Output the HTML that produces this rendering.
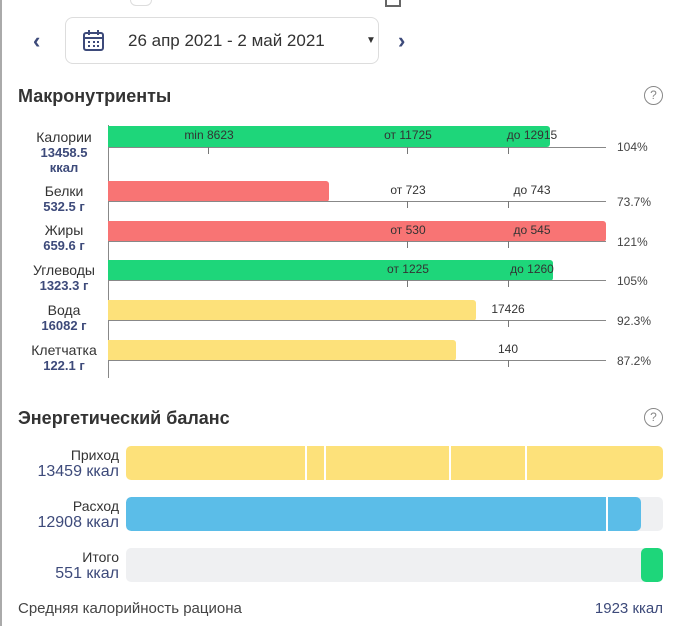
<!DOCTYPE html><html><head><meta charset="utf-8"><style>
body{margin:0;width:680px;height:626px;background:#fff;position:relative;overflow:hidden;font-family:"Liberation Sans","DejaVu Sans",sans-serif;color:#333}
.a{position:absolute}
.lbl{position:absolute;width:110px;left:9px;text-align:center;font-size:14px;line-height:15px;color:#333}
.lbl b{color:#3d4a7a;font-size:13px}
.bar{position:absolute;left:108px;height:21px;border-radius:0 3px 3px 0}
.base{position:absolute;left:108px;width:498px;height:1px;background:#888}
.tk{position:absolute;width:1px;height:7px;background:#777}
.tl{position:absolute;font-size:12px;color:#333;transform:translateX(-50%)}
.pc{position:absolute;left:617px;font-size:12px;color:#444}
.el{position:absolute;right:561px;text-align:right;font-size:14px;line-height:16px}
.el b{font-weight:normal;color:#3d4a7a;font-size:16px}
.eb{position:absolute;left:126px;width:537px;height:34px;border-radius:5px;background:#eff0f2;overflow:hidden}
.dv{position:absolute;top:0;width:2px;height:34px;background:#fff}
</style></head><body>
<div class="a" style="left:0;top:0;width:2px;height:626px;background:#aaa"></div>
<div class="a" style="left:130px;top:-12px;width:20px;height:16px;border:1px solid #ddd;border-radius:6px"></div>
<div class="a" style="left:385px;top:-6px;width:12px;height:9px;border:2px solid #666"></div>
<div class="a" style="left:33px;top:28px;font-size:22px;color:#3d4a7a;font-weight:bold">‹</div>
<div class="a" style="left:398px;top:28px;font-size:22px;color:#3d4a7a;font-weight:bold">›</div>
<div class="a" style="left:65px;top:17px;width:312px;height:45px;border:1px solid #ddd;border-radius:8px"></div>
<svg class="a" style="left:82px;top:29px" width="24" height="24"><rect x="2" y="4" width="19" height="17" rx="2" fill="none" stroke="#3d4a7a" stroke-width="2"/><line x1="2" y1="9" x2="21" y2="9" stroke="#3d4a7a" stroke-width="2"/><line x1="7" y1="1" x2="7" y2="6" stroke="#3d4a7a" stroke-width="2"/><line x1="16" y1="1" x2="16" y2="6" stroke="#3d4a7a" stroke-width="2"/><g fill="#3d4a7a"><rect x="6" y="12" width="2" height="2"/><rect x="11" y="12" width="2" height="2"/><rect x="15" y="12" width="2" height="2"/><rect x="6" y="16" width="2" height="2"/><rect x="11" y="16" width="2" height="2"/><rect x="15" y="16" width="2" height="2"/></g></svg>
<div class="a" style="left:128px;top:31px;font-size:17px;color:#333">26 апр 2021 - 2 май 2021</div>
<div class="a" style="left:366px;top:35px;font-size:10px;color:#333">▼</div>
<div class="a" style="left:18px;top:86px;font-size:18px;font-weight:bold;color:#333">Макронутриенты</div>
<div class="a" style="left:644px;top:86px;width:17px;height:17px;border:1px solid #888;border-radius:50%;font-size:12px;text-align:center;line-height:17px;color:#888">?</div>
<div class="a" style="left:108px;top:125px;width:1px;height:253px;background:#888"></div>

<div class="lbl" style="top:130px">Калории<br><b>13458.5<br>ккал</b></div>
<div class="bar" style="top:126px;width:442px;background:#1ed67a"></div>
<div class="base" style="top:147px"></div>
<div class="tk" style="left:208px;top:147px"></div><div class="tk" style="left:407px;top:147px"></div><div class="tk" style="left:508px;top:147px"></div>
<div class="tl" style="left:209px;top:128px">min 8623</div><div class="tl" style="left:408px;top:128px">от 11725</div><div class="tl" style="left:532px;top:128px">до 12915</div>
<div class="pc" style="top:140px">104%</div>

<div class="lbl" style="top:184px">Белки<br><b>532.5 г</b></div>
<div class="bar" style="top:181px;width:221px;background:#f87474"></div>
<div class="base" style="top:201px"></div>
<div class="tk" style="left:407px;top:201px"></div><div class="tk" style="left:508px;top:201px"></div>
<div class="tl" style="left:408px;top:183px">от 723</div><div class="tl" style="left:532px;top:183px">до 743</div>
<div class="pc" style="top:195px">73.7%</div>

<div class="lbl" style="top:223px">Жиры<br><b>659.6 г</b></div>
<div class="bar" style="top:221px;width:498px;background:#f87474"></div>
<div class="base" style="top:241px"></div>
<div class="tk" style="left:407px;top:241px"></div><div class="tk" style="left:508px;top:241px"></div>
<div class="tl" style="left:408px;top:223px">от 530</div><div class="tl" style="left:532px;top:223px">до 545</div>
<div class="pc" style="top:235px">121%</div>

<div class="lbl" style="top:263px">Углеводы<br><b>1323.3 г</b></div>
<div class="bar" style="top:260px;width:445px;background:#1ed67a"></div>
<div class="base" style="top:280px"></div>
<div class="tk" style="left:407px;top:280px"></div><div class="tk" style="left:508px;top:280px"></div>
<div class="tl" style="left:408px;top:262px">от 1225</div><div class="tl" style="left:532px;top:262px">до 1260</div>
<div class="pc" style="top:274px">105%</div>

<div class="lbl" style="top:303px">Вода<br><b>16082 г</b></div>
<div class="bar" style="top:300px;width:368px;background:#fde17a"></div>
<div class="base" style="top:320px"></div>
<div class="tk" style="left:508px;top:320px"></div>
<div class="tl" style="left:508px;top:302px">17426</div>
<div class="pc" style="top:314px">92.3%</div>

<div class="lbl" style="top:343px">Клетчатка<br><b>122.1 г</b></div>
<div class="bar" style="top:340px;width:348px;background:#fde17a"></div>
<div class="base" style="top:360px"></div>
<div class="tk" style="left:508px;top:360px"></div>
<div class="tl" style="left:508px;top:342px">140</div>
<div class="pc" style="top:354px">87.2%</div>

<div class="a" style="left:18px;top:408px;font-size:18px;font-weight:bold;color:#333">Энергетический баланс</div>
<div class="a" style="left:644px;top:408px;width:17px;height:17px;border:1px solid #888;border-radius:50%;font-size:12px;text-align:center;line-height:17px;color:#888">?</div>

<div class="el" style="top:447px">Приход<br><b>13459 ккал</b></div>
<div class="eb" style="top:446px;background:#fde17a"><div class="dv" style="left:179px"></div><div class="dv" style="left:198px"></div><div class="dv" style="left:323px"></div><div class="dv" style="left:399px"></div></div>
<div class="el" style="top:498px">Расход<br><b>12908 ккал</b></div>
<div class="eb" style="top:497px"><div class="a" style="left:0;top:0;width:515px;height:34px;background:#5bbde8;border-radius:5px"></div><div class="dv" style="left:480px"></div></div>
<div class="el" style="top:549px">Итого<br><b>551 ккал</b></div>
<div class="eb" style="top:548px"><div class="a" style="left:515px;top:0;width:22px;height:34px;background:#1ed67a;border-radius:5px"></div></div>

<div class="a" style="left:18px;top:600px;font-size:15px;color:#444">Средняя калорийность рациона</div>
<div class="a" style="right:17px;top:600px;font-size:15px;color:#3d4a7a">1923 ккал</div>
</body></html>
